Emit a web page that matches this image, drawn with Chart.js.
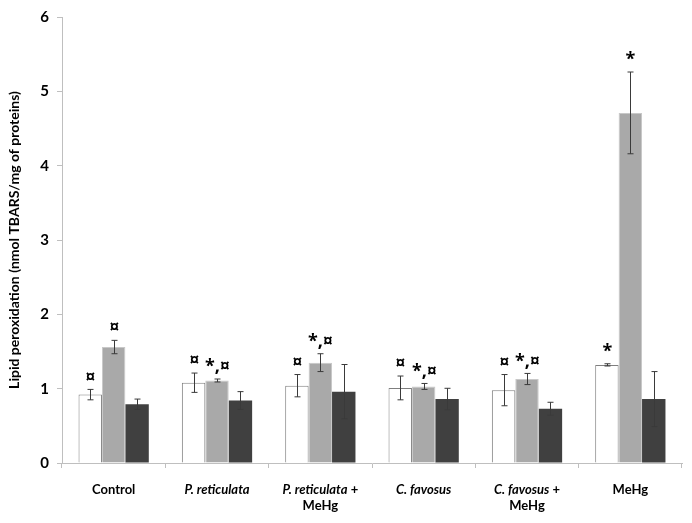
<!DOCTYPE html>
<html>
<head>
<meta charset="utf-8">
<script src="https://cdn.jsdelivr.net/npm/chart.js@4"></script>
<style>
  body { margin: 0; background: #fff; }
</style>
</head>
<body>
<canvas id="lipidChart" width="692" height="523"></canvas>
<script>
const categories = ['Control', 'P. reticulata', 'P. reticulata + MeHg', 'C. favosus', 'C. favosus + MeHg', 'MeHg'];
const italicNames = ['P. reticulata', 'C. favosus'];
const yTicks = [0, 1, 2, 3, 4, 5, 6];

// three groups per treatment (white, light grey, dark grey)
const whiteValues = [0.92, 1.08, 1.04, 1.01, 0.98, 1.32];
const whiteErrors = [0.07, 0.13, 0.15, 0.16, 0.21, 0.015];
const whiteMarks = ['¤', '¤', '¤', '¤', '¤', '*'];

const greyValues = [1.56, 1.11, 1.35, 1.03, 1.13, 4.71];
const greyErrors = [0.09, 0.02, 0.12, 0.04, 0.075, 0.55];
const greyMarks = ['¤', '*,¤', '*,¤', '*,¤', '*,¤', '*'];

const darkValues = [0.79, 0.84, 0.96, 0.86, 0.73, 0.86];
const darkErrors = [0.07, 0.12, 0.365, 0.145, 0.087, 0.37];
const darkMarks = ['', '', '', '', '', ''];

const FONT = 'Lato, "Open Sans", sans-serif';
const MARK_FONT = '"Open Sans", sans-serif';

const errorBarPlugin = {
    id: 'errorBars',
    afterDatasetsDraw(chart) {
        const ctx = chart.ctx;
        const yScale = chart.scales.y;
        chart.data.datasets.forEach((ds, di) => {
            const meta = chart.getDatasetMeta(di);
            meta.data.forEach((bar, i) => {
                const v = ds.data[i];
                const e = ds.errors[i];
                const yTop = yScale.getPixelForValue(v + e);
                const yBot = yScale.getPixelForValue(v - e);
                const x = Math.round(bar.x) + 0.5;
                ctx.save();
                ctx.strokeStyle = '#3a3a3a';
                ctx.lineWidth = 1;
                ctx.beginPath();
                ctx.moveTo(x, yTop);
                ctx.lineTo(x, yBot);
                ctx.moveTo(x - 3, yTop);
                ctx.lineTo(x + 3, yTop);
                ctx.moveTo(x - 3, yBot);
                ctx.lineTo(x + 3, yBot);
                ctx.stroke();

                const mark = ds.marks[i];
                if (mark) {
                    ctx.fillStyle = '#000';
                    ctx.textAlign = 'center';
                    ctx.textBaseline = 'bottom';
                    ctx.font = 'bold 18px ' + MARK_FONT;
                    ctx.fillText(mark, x, yTop - 3);
                }
                ctx.restore();
            });
        });
    }
};

const xLabelPlugin = {
    id: 'xLabels',
    afterDraw(chart) {
        const ctx = chart.ctx;
        const xScale = chart.scales.x;
        const baseY = xScale.top + 27;
        ctx.save();
        ctx.fillStyle = '#000';
        ctx.textBaseline = 'middle';
        categories.forEach((cat, i) => {
            const cx = xScale.getPixelForValue(i);
            const parts = cat.split(' + ');
            const name = parts[0];
            const italic = italicNames.includes(name);
            const nameFont = (italic ? 'italic ' : '') + 'bold 13px ' + FONT;
            const plainFont = 'bold 13px ' + FONT;
            let tail = parts.length > 1 ? ' +' : '';
            ctx.font = nameFont;
            const wName = ctx.measureText(name).width;
            ctx.font = plainFont;
            const wTail = ctx.measureText(tail).width;
            let x0 = cx - (wName + wTail) / 2;
            ctx.textAlign = 'left';
            ctx.font = nameFont;
            ctx.fillText(name, x0, baseY);
            ctx.font = plainFont;
            ctx.fillText(tail, x0 + wName, baseY);
            if (parts.length > 1) {
                ctx.textAlign = 'center';
                ctx.fillText(parts[1], cx, baseY + 16);
            }
        });
        ctx.restore();
    }
};

const ctx = document.getElementById('lipidChart');
new Chart(ctx, {
    type: 'bar',
    data: {
        labels: categories,
        datasets: [
            {
                data: whiteValues,
                errors: whiteErrors,
                marks: whiteMarks,
                backgroundColor: '#ffffff',
                borderColor: '#7f7f7f',
                borderWidth: 1
            },
            {
                data: greyValues,
                errors: greyErrors,
                marks: greyMarks,
                backgroundColor: '#a9a9a9',
                borderColor: '#c8c8c8',
                borderWidth: 1
            },
            {
                data: darkValues,
                errors: darkErrors,
                marks: darkMarks,
                backgroundColor: '#404040',
                borderColor: '#404040',
                borderWidth: 0
            }
        ]
    },
    options: {
        responsive: false,
        animation: false,
        events: [],
        layout: {
            padding: {top: 14, right: 10, left: 0, bottom: 0}
        },
        datasets: {
            bar: {
                categoryPercentage: 0.68,
                barPercentage: 1.0
            }
        },
        scales: {
            x: {
                grid: {
                    offset: true,
                    drawOnChartArea: false,
                    color: '#bfbfbf',
                    tickLength: 5
                },
                border: {color: '#bfbfbf'},
                ticks: {display: false},
                afterFit: scale => { scale.height = 60; }
            },
            y: {
                min: 0,
                max: 6,
                afterBuildTicks: scale => { scale.ticks = yTicks.map(v => ({value: v})); },
                grid: {
                    drawOnChartArea: false,
                    color: '#bfbfbf',
                    tickLength: 5
                },
                border: {color: '#bfbfbf'},
                ticks: {
                    color: '#000',
                    padding: 8,
                    font: {family: FONT, size: 15, weight: 'bold'}
                },
                title: {
                    display: true,
                    text: 'Lipid peroxidation (nmol TBARS/mg of proteins)',
                    color: '#000',
                    padding: {top: 6, bottom: 0},
                    font: {family: FONT, size: 14, weight: 'bold'}
                },
                afterFit: scale => { scale.width = 62; }
            }
        },
        plugins: {
            legend: {display: false},
            tooltip: {enabled: false}
        }
    },
    plugins: [errorBarPlugin, xLabelPlugin]
});
</script>
</body>
</html>
